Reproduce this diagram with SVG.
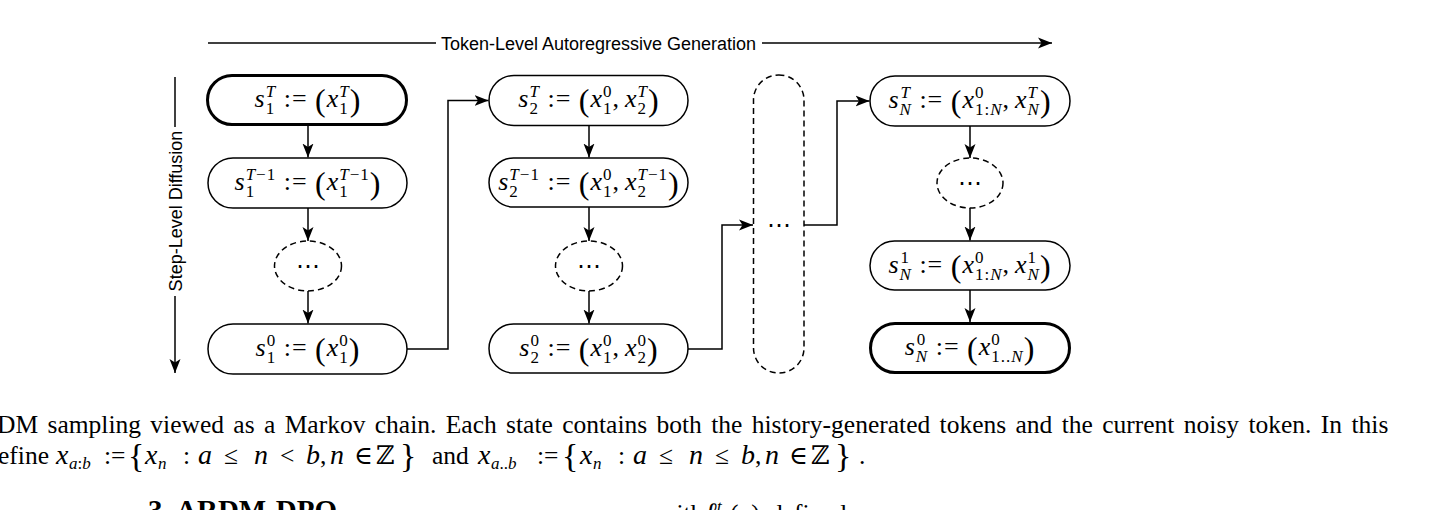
<svg xmlns="http://www.w3.org/2000/svg" width="1447" height="510" viewBox="0 0 1447 510">
<defs>
<style>
.nd{fill:#fff;stroke:#000;stroke-width:1.5}
.bd{stroke-width:3}
.ds{stroke-dasharray:6 4}
.cn{fill:none;stroke:#000;stroke-width:1.5}
.t{font-family:"Liberation Serif","DejaVu Serif",serif;font-size:26px;letter-spacing:1px;fill:#000;text-anchor:middle}
.i{font-style:italic}
.sc{font-size:17px}
.pa{font-size:32px}
.lb{font-family:"Liberation Sans",Arial,sans-serif;font-size:18px;fill:#000}
.dt{font-family:"DejaVu Sans",sans-serif;font-size:24px;fill:#000;text-anchor:middle}
.cap{font-family:"Liberation Serif","DejaVu Serif",serif;font-size:25.5px;fill:#000}
.mi{font-style:italic;font-size:28px}
.ms{font-size:17px}
.br{font-size:34px}
.hd{font-family:"Liberation Serif",serif;font-size:29px;font-weight:bold;fill:#000}
</style>
<marker id="ah" markerUnits="userSpaceOnUse" markerWidth="14" markerHeight="12" refX="14" refY="6" orient="auto" viewBox="0 0 14 12">
<path d="M0,0.5 L14,6 L0,11.5 L3.5,6 Z" fill="#000"/>
</marker>
</defs>
<rect width="1447" height="510" fill="#fff"/>

<g id="axis-token">
<line class="cn" x1="208" y1="43" x2="436" y2="43"/>
<line class="cn" x1="762" y1="43" x2="1052" y2="43" marker-end="url(#ah)"/>
<text class="lb" x="598.5" y="49.5" text-anchor="middle">Token-Level Autoregressive Generation</text>
</g>
<g id="axis-step">
<line class="cn" x1="175" y1="77" x2="175" y2="127"/>
<line class="cn" x1="175" y1="296" x2="175" y2="373" marker-end="url(#ah)"/>
<text class="lb" transform="translate(181.5,211) rotate(-90)" text-anchor="middle">Step-Level Diffusion</text>
</g>

<g id="connectors">
<line class="cn" x1="308" y1="126" x2="308" y2="157.5" marker-end="url(#ah)"/>
<line class="cn" x1="308" y1="208" x2="308" y2="241" marker-end="url(#ah)"/>
<line class="cn" x1="308" y1="291" x2="308" y2="323.5" marker-end="url(#ah)"/>
<path class="cn" d="M407,349 H448 V100.5 H488.5" marker-end="url(#ah)"/>
<line class="cn" x1="589" y1="125.5" x2="589" y2="157.5" marker-end="url(#ah)"/>
<line class="cn" x1="589" y1="207" x2="589" y2="241" marker-end="url(#ah)"/>
<line class="cn" x1="589" y1="291" x2="589" y2="323.5" marker-end="url(#ah)"/>
<path class="cn" d="M688,349 H722 V225 H753" marker-end="url(#ah)"/>
<path class="cn" d="M804,225 H837 V101 H869.5" marker-end="url(#ah)"/>
<line class="cn" x1="970" y1="126" x2="970" y2="158" marker-end="url(#ah)"/>
<line class="cn" x1="970" y1="208" x2="970" y2="240.5" marker-end="url(#ah)"/>
<line class="cn" x1="970" y1="290" x2="970" y2="322" marker-end="url(#ah)"/>
</g>

<g id="s1T">
<rect class="nd bd" x="207.5" y="75.5" width="199" height="49" rx="24.5"/>
<text class="t" x="308" y="107"><tspan class="i">s</tspan><tspan class="sc" dy="7">1</tspan><tspan class="sc i" dx="-9.5" dy="-17">T</tspan><tspan dy="10">&#160;:=&#160;</tspan><tspan class="pa" dy="4">(</tspan><tspan class="i" dy="-4">x</tspan><tspan class="sc" dy="7">1</tspan><tspan class="sc i" dx="-9.5" dy="-17">T</tspan><tspan class="pa" dy="14">)</tspan></text>
</g>
<g id="s1Tm1">
<rect class="nd" x="208" y="158" width="199" height="50" rx="25"/>
<text class="t" x="308" y="190"><tspan class="i">s</tspan><tspan class="sc" dy="7">1</tspan><tspan class="sc" dx="-9.5" dy="-17"><tspan class="i">T</tspan>−1</tspan><tspan dy="10">&#160;:=&#160;</tspan><tspan class="pa" dy="4">(</tspan><tspan class="i" dy="-4">x</tspan><tspan class="sc" dy="7">1</tspan><tspan class="sc" dx="-9.5" dy="-17"><tspan class="i">T</tspan>−1</tspan><tspan class="pa" dy="14">)</tspan></text>
</g>
<g id="dots1">
<ellipse class="nd ds" cx="308" cy="266" rx="33.5" ry="25"/>
<text class="dt" x="308" y="274">⋯</text>
</g>
<g id="s10">
<rect class="nd" x="208" y="324" width="199" height="50" rx="25"/>
<text class="t" x="308" y="356"><tspan class="i">s</tspan><tspan class="sc" dy="7">1</tspan><tspan class="sc" dx="-9.5" dy="-17">0</tspan><tspan dy="10">&#160;:=&#160;</tspan><tspan class="pa" dy="4">(</tspan><tspan class="i" dy="-4">x</tspan><tspan class="sc" dy="7">1</tspan><tspan class="sc" dx="-9.5" dy="-17">0</tspan><tspan class="pa" dy="14">)</tspan></text>
</g>

<g id="s2T">
<rect class="nd" x="489" y="75.5" width="199" height="50" rx="25"/>
<text class="t" x="589" y="107"><tspan class="i">s</tspan><tspan class="sc" dy="7">2</tspan><tspan class="sc i" dx="-9.5" dy="-17">T</tspan><tspan dy="10">&#160;:=&#160;</tspan><tspan class="pa" dy="4">(</tspan><tspan class="i" dy="-4">x</tspan><tspan class="sc" dy="7">1</tspan><tspan class="sc" dx="-9.5" dy="-17">0</tspan><tspan dy="10">,</tspan><tspan class="i" dx="5">x</tspan><tspan class="sc" dy="7">2</tspan><tspan class="sc i" dx="-9.5" dy="-17">T</tspan><tspan class="pa" dy="14">)</tspan></text>
</g>
<g id="s2Tm1">
<rect class="nd" x="489" y="158" width="199" height="49" rx="24.5"/>
<text class="t" x="589" y="190"><tspan class="i">s</tspan><tspan class="sc" dy="7">2</tspan><tspan class="sc" dx="-9.5" dy="-17"><tspan class="i">T</tspan>−1</tspan><tspan dy="10">&#160;:=&#160;</tspan><tspan class="pa" dy="4">(</tspan><tspan class="i" dy="-4">x</tspan><tspan class="sc" dy="7">1</tspan><tspan class="sc" dx="-9.5" dy="-17">0</tspan><tspan dy="10">,</tspan><tspan class="i" dx="5">x</tspan><tspan class="sc" dy="7">2</tspan><tspan class="sc" dx="-9.5" dy="-17"><tspan class="i">T</tspan>−1</tspan><tspan class="pa" dy="14">)</tspan></text>
</g>
<g id="dots2">
<ellipse class="nd ds" cx="589" cy="266" rx="33.5" ry="25"/>
<text class="dt" x="589" y="274">⋯</text>
</g>
<g id="s20">
<rect class="nd" x="489" y="324" width="199" height="49" rx="24.5"/>
<text class="t" x="589" y="356"><tspan class="i">s</tspan><tspan class="sc" dy="7">2</tspan><tspan class="sc" dx="-9.5" dy="-17">0</tspan><tspan dy="10">&#160;:=&#160;</tspan><tspan class="pa" dy="4">(</tspan><tspan class="i" dy="-4">x</tspan><tspan class="sc" dy="7">1</tspan><tspan class="sc" dx="-9.5" dy="-17">0</tspan><tspan dy="10">,</tspan><tspan class="i" dx="5">x</tspan><tspan class="sc" dy="7">2</tspan><tspan class="sc" dx="-9.5" dy="-17">0</tspan><tspan class="pa" dy="14">)</tspan></text>
</g>

<g id="dotsTok">
<rect class="nd ds" x="753.5" y="75" width="50.5" height="298" rx="25"/>
<text class="dt" x="779" y="233">⋯</text>
</g>

<g id="sNT">
<rect class="nd" x="870" y="76" width="200" height="50" rx="25"/>
<text class="t" x="970" y="108"><tspan class="i">s</tspan><tspan class="sc i" dx="1" dy="-10">T</tspan><tspan class="sc i" dx="-11.5" dy="17">N</tspan><tspan dy="-7">&#160;:=&#160;</tspan><tspan class="pa" dy="4">(</tspan><tspan class="i" dy="-4">x</tspan><tspan class="sc" dy="-10">0</tspan><tspan class="sc" dx="-9.5" dy="17">1:<tspan class="i">N</tspan></tspan><tspan dy="-7">,</tspan><tspan class="i" dx="5">x</tspan><tspan class="sc i" dy="-10">T</tspan><tspan class="sc i" dx="-10.5" dy="17">N</tspan><tspan class="pa" dy="-3">)</tspan></text>
</g>
<g id="dotsN">
<ellipse class="nd ds" cx="970" cy="183" rx="33" ry="25"/>
<text class="dt" x="970" y="191">⋯</text>
</g>
<g id="sN1">
<rect class="nd" x="870" y="241" width="200" height="49" rx="24.5"/>
<text class="t" x="970" y="273"><tspan class="i">s</tspan><tspan class="sc" dx="1" dy="-10">1</tspan><tspan class="sc i" dx="-10.5" dy="17">N</tspan><tspan dy="-7">&#160;:=&#160;</tspan><tspan class="pa" dy="4">(</tspan><tspan class="i" dy="-4">x</tspan><tspan class="sc" dy="-10">0</tspan><tspan class="sc" dx="-9.5" dy="17">1:<tspan class="i">N</tspan></tspan><tspan dy="-7">,</tspan><tspan class="i" dx="5">x</tspan><tspan class="sc" dy="-10">1</tspan><tspan class="sc i" dx="-9.5" dy="17">N</tspan><tspan class="pa" dy="-3">)</tspan></text>
</g>
<g id="sN0">
<rect class="nd bd" x="870.5" y="323.5" width="199" height="49" rx="24.5"/>
<text class="t" x="970" y="355"><tspan class="i">s</tspan><tspan class="sc" dx="1" dy="-10">0</tspan><tspan class="sc i" dx="-10.5" dy="17">N</tspan><tspan dy="-7">&#160;:=&#160;</tspan><tspan class="pa" dy="4">(</tspan><tspan class="i" dy="-4">x</tspan><tspan class="sc" dy="-10">0</tspan><tspan class="sc" dx="-9.5" dy="17">1..<tspan class="i">N</tspan></tspan><tspan class="pa" dy="-3">)</tspan></text>
</g>

<g id="caption">
<text class="cap" x="-3" y="433" word-spacing="3">DM sampling viewed as a Markov chain. Each state contains both the history-generated tokens and the current noisy token. In this</text>
<text class="cap" y="464"><tspan x="-2">efine</tspan><tspan class="mi" x="56">x</tspan><tspan class="ms" x="69" y="469"><tspan class="i">a</tspan>:<tspan class="i">b</tspan></tspan><tspan x="104" y="464">:=</tspan><tspan class="br" x="128" y="467">{</tspan><tspan class="mi" x="145" y="464">x</tspan><tspan class="ms i" x="158" y="469">n</tspan><tspan x="183" y="464">:</tspan><tspan class="mi" x="198">a</tspan><tspan x="224">≤</tspan><tspan class="mi" x="254">n</tspan><tspan x="280">&lt;</tspan><tspan class="mi" x="306">b</tspan><tspan x="320">,</tspan><tspan class="mi" x="330">n</tspan><tspan x="354">∈</tspan><tspan x="376">ℤ</tspan><tspan class="br" x="400" y="467">}</tspan><tspan x="432" y="464">and</tspan><tspan class="mi" x="478">x</tspan><tspan class="ms" x="491" y="469"><tspan class="i">a</tspan>..<tspan class="i">b</tspan></tspan><tspan x="537" y="464">:=</tspan><tspan class="br" x="562" y="467">{</tspan><tspan class="mi" x="580" y="464">x</tspan><tspan class="ms i" x="593" y="469">n</tspan><tspan x="618" y="464">:</tspan><tspan class="mi" x="633">a</tspan><tspan x="659">≤</tspan><tspan class="mi" x="689">n</tspan><tspan x="715">≤</tspan><tspan class="mi" x="741">b</tspan><tspan x="755">,</tspan><tspan class="mi" x="765">n</tspan><tspan x="789">∈</tspan><tspan x="811">ℤ</tspan><tspan class="br" x="835" y="467">}</tspan><tspan x="859" y="464">.</tspan></text>
<text class="hd" x="148" y="520">3</text>
<text class="hd" x="176" y="520">ARDM-DPO</text>
<text class="cap" y="522"><tspan x="658">with</tspan><tspan class="mi" x="705">ℓ</tspan><tspan class="ms i" x="717" y="512">t</tspan><tspan x="730" y="522">(<tspan font-weight="bold">x</tspan>)</tspan><tspan x="770">defined as:</tspan></text>
</g>
</svg>
